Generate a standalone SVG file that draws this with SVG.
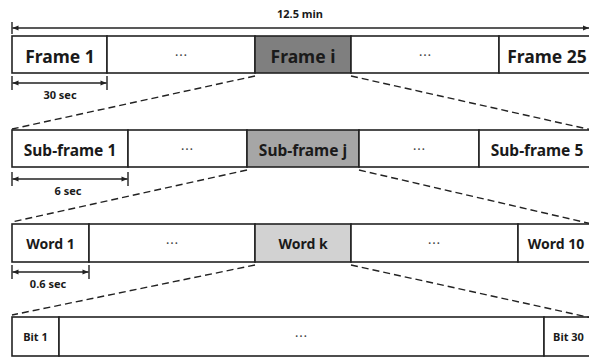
<svg xmlns="http://www.w3.org/2000/svg" width="589" height="358" viewBox="0 0 589 358">
  <defs>
    <marker id="ah" viewBox="0 0 10 10" refX="10" refY="5" markerWidth="7" markerHeight="6" orient="auto-start-reverse" markerUnits="userSpaceOnUse">
      <path d="M0,1 L10,5 L0,9 z" fill="#222"/>
    </marker>
    <style>
      .cell { fill: #ffffff; stroke: #222; stroke-width: 1.6; }
      .g1 { fill: #7f7f7f; }
      .g2 { fill: #a6a6a6; }
      .g3 { fill: #d2d2d2; }
      text { font-family: "Noto Sans", "Noto Sans CJK KR", sans-serif; font-weight: bold; fill: #1a1a1a; text-anchor: middle; }
      .t1 { font-size: 17.5px; }
      .t2 { font-size: 15.5px; }
      .t3 { font-size: 14px; }
      .t4 { font-size: 11px; }
      .dim { font-size: 11px; }
      .dots { font-family: "Noto Sans CJK KR", sans-serif; font-size: 13px; font-weight: normal; fill: #444; }
      .dash { stroke: #222; stroke-width: 1.4; stroke-dasharray: 7 4; fill: none; }
      .arr { stroke: #222; stroke-width: 1.4; fill: none; }
      .tick { stroke: #222; stroke-width: 1.4; }
    </style>
  </defs>

  <rect width="589" height="358" fill="#ffffff"/>

  <!-- total span -->
  <g id="span-total">
    <line class="tick" x1="12" y1="22" x2="12" y2="34"/>
    <line class="arr" x1="12.5" y1="28" x2="589" y2="28" marker-start="url(#ah)" marker-end="url(#ah)"/>
    <text class="dim" x="300" y="18">12.5 min</text>
  </g>

  <!-- level 1: frames -->
  <g id="frame-1"><rect class="cell" x="12" y="36" width="95" height="37"/><text class="t1" x="60" y="62.5">Frame 1</text></g>
  <g id="frame-dots-a"><rect class="cell" x="107" y="36" width="148" height="37"/><text class="dots" x="181" y="60">…</text></g>
  <g id="frame-i"><rect class="cell g1" x="255" y="36" width="96" height="37"/><text class="t1" x="303" y="62.5">Frame i</text></g>
  <g id="frame-dots-b"><rect class="cell" x="351" y="36" width="148" height="37"/><text class="dots" x="425" y="60">…</text></g>
  <g id="frame-25"><rect class="cell" x="499" y="36" width="100" height="37"/><text class="t1" x="547" y="62.5">Frame 25</text></g>

  <g id="span-frame">
    <line class="tick" x1="12" y1="76" x2="12" y2="90"/>
    <line class="tick" x1="107" y1="76" x2="107" y2="90"/>
    <line class="arr" x1="12.5" y1="83" x2="106.5" y2="83" marker-start="url(#ah)" marker-end="url(#ah)"/>
    <text class="dim" x="60" y="99">30 sec</text>
  </g>

  <!-- level 2: sub-frames -->
  <g id="sub-1"><rect class="cell" x="12" y="130" width="116" height="37"/><text class="t2" x="70" y="155.5">Sub-frame 1</text></g>
  <g id="sub-dots-a"><rect class="cell" x="128" y="130" width="119" height="37"/><text class="dots" x="187" y="154">…</text></g>
  <g id="sub-j"><rect class="cell g2" x="247" y="130" width="112" height="37"/><text class="t2" x="303" y="155.5">Sub-frame j</text></g>
  <g id="sub-dots-b"><rect class="cell" x="359" y="130" width="120" height="37"/><text class="dots" x="419" y="154">…</text></g>
  <g id="sub-5"><rect class="cell" x="479" y="130" width="120" height="37"/><text class="t2" x="537" y="155.5">Sub-frame 5</text></g>

  <g id="span-sub">
    <line class="tick" x1="12" y1="172" x2="12" y2="186"/>
    <line class="tick" x1="128" y1="172" x2="128" y2="186"/>
    <line class="arr" x1="12.5" y1="179" x2="127.5" y2="179" marker-start="url(#ah)" marker-end="url(#ah)"/>
    <text class="dim" x="68" y="195">6 sec</text>
  </g>

  <!-- level 3: words -->
  <g id="word-1"><rect class="cell" x="12" y="224" width="77" height="38"/><text class="t3" x="50.5" y="248.5">Word 1</text></g>
  <g id="word-dots-a"><rect class="cell" x="89" y="224" width="166" height="38"/><text class="dots" x="172" y="248">…</text></g>
  <g id="word-k"><rect class="cell g3" x="255" y="224" width="96" height="38"/><text class="t3" x="303" y="248.5">Word k</text></g>
  <g id="word-dots-b"><rect class="cell" x="351" y="224" width="167" height="38"/><text class="dots" x="434" y="248">…</text></g>
  <g id="word-10"><rect class="cell" x="518" y="224" width="80" height="38"/><text class="t3" x="556" y="248.5">Word 10</text></g>

  <g id="span-word">
    <line class="tick" x1="12" y1="265" x2="12" y2="279"/>
    <line class="tick" x1="89" y1="265" x2="89" y2="279"/>
    <line class="arr" x1="12.5" y1="272" x2="88.5" y2="272" marker-start="url(#ah)" marker-end="url(#ah)"/>
    <text class="dim" x="48" y="288">0.6 sec</text>
  </g>

  <!-- level 4: bits -->
  <g id="bit-1"><rect class="cell" x="12" y="317" width="47" height="39"/><text class="t4" x="35.5" y="341">Bit 1</text></g>
  <g id="bit-dots"><rect class="cell" x="59" y="317" width="485" height="39"/><text class="dots" x="301" y="341">…</text></g>
  <g id="bit-30"><rect class="cell" x="544" y="317" width="55" height="39"/><text class="t4" x="568.5" y="341">Bit 30</text></g>

  <!-- zoom-in guides between levels -->
  <g id="connectors">
    <line class="dash" x1="255" y1="76" x2="12" y2="129"/>
    <line class="dash" x1="351" y1="76" x2="592" y2="130"/>
    <line class="dash" x1="247" y1="170" x2="12" y2="222"/>
    <line class="dash" x1="359" y1="170" x2="592" y2="224"/>
    <line class="dash" x1="255" y1="265" x2="12" y2="315"/>
    <line class="dash" x1="351" y1="265" x2="592" y2="318"/>
  </g>
</svg>
